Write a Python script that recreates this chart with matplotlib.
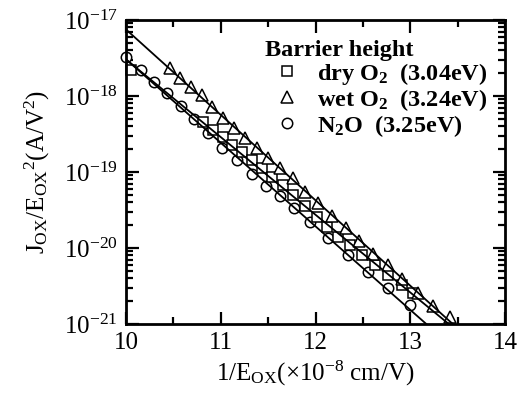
import numpy as np
import matplotlib
matplotlib.use("Agg")
import matplotlib.pyplot as plt
from matplotlib.ticker import FixedLocator, LogLocator, MultipleLocator, NullFormatter

plt.rcParams['font.family'] = ['Liberation Serif', 'DejaVu Serif']
plt.rcParams['mathtext.fontset'] = 'custom'
plt.rcParams['mathtext.rm'] = 'Liberation Serif'
plt.rcParams['mathtext.it'] = 'Liberation Serif:italic'
plt.rcParams['mathtext.bf'] = 'Liberation Serif:bold'

# ---- data (x = 1/E_ox in 1e-8 cm/V, y = log10(J/E^2)) ----
dry_x = [10.05, 10.81, 10.92, 11.02, 11.12, 11.22, 11.33, 11.44, 11.54, 11.66,
         11.76, 11.89, 12.02, 12.12, 12.24, 12.36, 12.49, 12.63, 12.77, 12.91, 13.03]
dry_logy = [-17.66, -18.34, -18.45, -18.54, -18.65, -18.74, -18.84, -18.95, -19.07, -19.17,
            -19.30, -19.45, -19.59, -19.72, -19.86, -19.96, -20.09, -20.22, -20.36, -20.49, -20.59]

wet_x = [10.46, 10.57, 10.69, 10.80, 10.91, 11.02, 11.14, 11.26, 11.38, 11.50, 11.63, 11.76,
         11.89, 12.03, 12.17, 12.32, 12.46, 12.61, 12.76, 12.91, 13.08, 13.24, 13.42]
wet_logy = [-17.63, -17.76, -17.88, -17.99, -18.15, -18.29, -18.42, -18.55, -18.68, -18.82,
            -18.95, -19.08, -19.26, -19.41, -19.58, -19.74, -19.91, -20.08, -20.22, -20.41,
            -20.59, -20.76, -20.91]

n2o_x = [10.00, 10.16, 10.30, 10.43, 10.58, 10.72, 10.87, 11.01, 11.17, 11.33, 11.48, 11.63,
         11.77, 11.94, 12.13, 12.34, 12.55, 12.77, 13.00]
n2o_logy = [-17.49, -17.66, -17.82, -17.96, -18.13, -18.30, -18.49, -18.68, -18.84, -19.03,
            -19.18, -19.32, -19.47, -19.66, -19.87, -20.09, -20.32, -20.53, -20.75]

labels = ['dry $\\mathbf{O_2}$  (3.04eV)', 'wet $\\mathbf{O_2}$  (3.24eV)', '$\\mathbf{N_2O}$  (3.25eV)']
y_decades = [1e-21, 1e-20, 1e-19, 1e-18, 1e-17]

fig = plt.figure(figsize=(5.23, 3.94), dpi=100)
ax = fig.add_axes([126/523, 1-324/394, (505-126)/523, (324-20)/394])

ms = 7.5
mew = 1.1
hc = ax.plot(n2o_x, 10**np.array(n2o_logy), 'o', ms=ms, mfc='white', mec='black', mew=mew,
             zorder=3, clip_on=False)[0]
hs = ax.plot(dry_x, 10**np.array(dry_logy), 's', ms=ms, mfc='white', mec='black', mew=mew,
             zorder=4, clip_on=False)[0]
ht = ax.plot(wet_x, 10**np.array(wet_logy), '^', ms=ms+1, mfc='white', mec='black', mew=mew,
             zorder=5, clip_on=False)[0]

xx = np.array([9.5, 14.5])
for xs, ys in [(dry_x, dry_logy), (wet_x, wet_logy), (n2o_x, n2o_logy)]:
    p = np.polyfit(xs, ys, 1)
    ax.plot(xx, 10**np.polyval(p, xx), '-', color='black', lw=1.3, zorder=6)

ax.set_yscale('log')
ax.set_xlim(10, 14)
ax.set_ylim(1e-21, 1e-17)
ax.xaxis.set_major_locator(MultipleLocator(1))
ax.xaxis.set_minor_locator(MultipleLocator(0.5))
ax.yaxis.set_major_locator(FixedLocator(y_decades))
minors = [m * d for d in y_decades[:-1] for m in range(2, 10)]
ax.yaxis.set_minor_locator(FixedLocator(minors))
ax.yaxis.set_minor_formatter(NullFormatter())
ax.tick_params(which='both', direction='in', top=True, right=True, width=1.6, labelsize=18)
ax.tick_params(which='major', length=9, pad=6)
ax.tick_params(which='minor', length=5)
for s in ax.spines.values():
    s.set_linewidth(2)
    s.set_zorder(7)

ax.set_ylabel(r'$\mathrm{J_{OX}/E_{OX}{}^{2}(A/V^2)}$', fontsize=18, labelpad=8)
ax.set_xlabel(r'$\mathrm{1/E_{OX}(\times10^{-8}\ cm/V)}$', fontsize=18, labelpad=3)

leg = ax.legend([hs, ht, hc], labels, title='Barrier height', loc='upper left',
                bbox_to_anchor=((265-126)/379, (324-40)/304), frameon=False, alignment='left',
                prop={'weight': 'bold', 'size': 17.5}, handletextpad=0.35,
                handlelength=1.8, labelspacing=0.0, borderpad=0.0, borderaxespad=0.0)
leg.get_title().set_fontweight('bold')
leg.get_title().set_fontsize(17.5)
leg.set_zorder(10)

fig.savefig('out.png', dpi=100)
